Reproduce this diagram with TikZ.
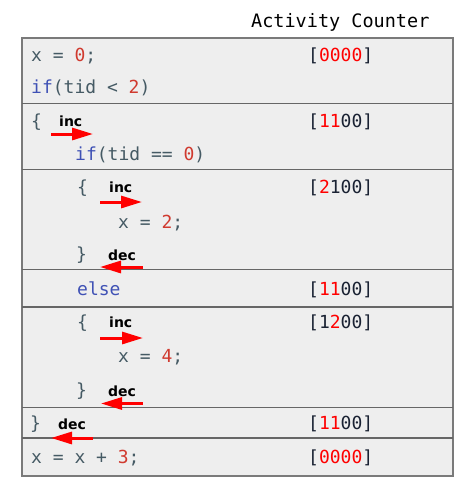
\documentclass[tikz,border=0pt]{standalone}
\usepackage{fontspec}
\usetikzlibrary{arrows.meta}
\newfontfamily\codefont{DejaVu Sans Mono}
\newfontfamily\labfont{DejaVu Sans}
\definecolor{codegray}{HTML}{455A64}
\definecolor{kw}{HTML}{3F51B5}
\definecolor{num}{HTML}{D03A2F}
\definecolor{cnt}{HTML}{FF0000}
\definecolor{brk}{HTML}{1A2233}
\definecolor{boxfill}{HTML}{EEEEEE}
\definecolor{boxline}{HTML}{7A7A7A}
\definecolor{sepline}{HTML}{666666}
\newcommand{\nm}[1]{\textcolor{num}{#1}}
\newcommand{\kwd}[1]{\textcolor{kw}{#1}}
\newcommand{\cn}[1]{\textcolor{cnt}{#1}}
\begin{document}
\begin{tikzpicture}[x=1pt,y=-1pt,
  code/.style={font=\codefont\fontsize{18}{20}\selectfont, anchor=base west, inner sep=0pt, text=codegray},
  counter/.style={font=\codefont\fontsize{18}{20}\selectfont, anchor=base west, inner sep=0pt, text=brk},
  lab/.style={font=\labfont\bfseries\fontsize{14}{16}\selectfont, anchor=base west, inner sep=0pt, text=black},
  sep/.style={draw=sepline, line width=1.3pt},
  flow/.style={draw=cnt, line width=3pt, -{Triangle[length=21pt,width=12pt]}}]
\useasboundingbox (0,0) rectangle (467,491);
% box
\draw[fill=boxfill, draw=boxline, line width=1.3pt] (22,38) rectangle (453,476);
\draw[sep] (22,103.5) -- (453,103.5);
\draw[sep] (22,169.5) -- (453,169.5);
\draw[sep] (22,269.5) -- (453,269.5);
\draw[sep] (22,307) -- (453,307);
\draw[sep] (22,407.7) -- (453,407.7);
\draw[sep] (22,438) -- (453,438);
% title
\node[font=\codefont\fontsize{18.5}{20}\selectfont, anchor=base west, inner sep=0pt] (title) at (251,27) {Activity Counter};
% code lines
\node[code] (l1) at (31,61) {x = \nm{0};};
\node[code] (l2) at (31,93) {\kwd{if}(tid < \nm{2})};
\node[code] (l3) at (31,127) {\{};
\node[code] (l4) at (75,160) {\kwd{if}(tid == \nm{0})};
\node[code] (l5) at (77,193) {\{};
\node[code] (l6) at (118,228) {x = \nm{2};};
\node[code] (l7) at (76,260) {\}};
\node[code] (l8) at (77,295) {\kwd{else}};
\node[code] (l9) at (77,328) {\{};
\node[code] (l10) at (118,362) {x = \nm{4};};
\node[code] (l11) at (76,396) {\}};
\node[code] (l12) at (30,429) {\}};
\node[code] (l13) at (31,463) {x = x + \nm{3};};
% counters
\node[counter] (c1) at (308,61) {[\cn{0000}]};
\node[counter] (c3) at (308,127) {[\cn{11}00]};
\node[counter] (c5) at (308,193) {[\cn{2}100]};
\node[counter] (c8) at (308,295) {[\cn{11}00]};
\node[counter] (c9) at (308,328) {[1\cn{2}00]};
\node[counter] (c12) at (308,429) {[\cn{11}00]};
\node[counter] (c13) at (308,463) {[\cn{0000}]};
% labels
\node[lab] (i1) at (59,126) {inc};
\node[lab] (i2) at (109,192) {inc};
\node[lab] (d1) at (108,260) {dec};
\node[lab] (i3) at (109,327) {inc};
\node[lab] (d2) at (108,396.5) {dec};
\node[lab] (d3) at (58,429) {dec};
% arrow end points
\coordinate (a1s) at (51,134);   \coordinate (a1e) at (93,134);
\coordinate (a2s) at (100,202);  \coordinate (a2e) at (142,202);
\coordinate (a3s) at (143,267);  \coordinate (a3e) at (100,267);
\coordinate (a4s) at (100,338);  \coordinate (a4e) at (143,338);
\coordinate (a5s) at (143,403.5);\coordinate (a5e) at (101,403.5);
\coordinate (a6s) at (93,438);   \coordinate (a6e) at (51,438);
\draw[flow] (a1s) -- (a1e);
\draw[flow] (a2s) -- (a2e);
\draw[flow] (a3s) -- (a3e);
\draw[flow] (a4s) -- (a4e);
\draw[flow] (a5s) -- (a5e);
\draw[flow] (a6s) -- (a6e);
\end{tikzpicture}
\end{document}
